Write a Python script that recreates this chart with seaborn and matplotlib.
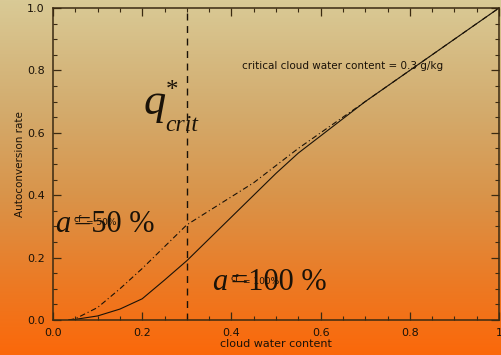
import numpy as np
import pandas as pd
import matplotlib
matplotlib.use("Agg")
import matplotlib.pyplot as plt
from matplotlib.colors import LinearSegmentedColormap
import seaborn as sns

# cloud water content (g/kg) and autoconversion rate for two cloud fractions
cwc = [0.035, 0.05, 0.1, 0.15, 0.2, 0.25, 0.3, 0.35, 0.4, 0.45, 0.5,
       0.55, 0.6, 0.65, 0.7, 0.8, 0.9, 1.0]
rate_cf100 = [0.0, 0.002, 0.013, 0.035, 0.068, 0.128, 0.19, 0.26, 0.33,
              0.40, 0.47, 0.535, 0.59, 0.645, 0.70, 0.80, 0.90, 1.0]
rate_cf50 = [0.0, 0.004, 0.04, 0.10, 0.165, 0.235, 0.305, 0.35, 0.395,
             0.44, 0.495, 0.55, 0.60, 0.65, 0.70, 0.80, 0.90, 1.0]
q_crit = 0.3

x_ticks = [0.0, 0.2, 0.4, 0.6, 0.8, 1.0]
x_ticklabels = ["0.0", "0.2", "0.4", "0.6", "0.8", "1"]
y_ticks = [0.0, 0.2, 0.4, 0.6, 0.8, 1.0]
y_ticklabels = ["0.0", "0.2", "0.4", "0.6", "0.8", "1.0"]

df = pd.DataFrame({
    "cwc": cwc * 2,
    "rate": rate_cf100 + rate_cf50,
    "cf": ["100"] * len(cwc) + ["50"] * len(cwc),
})

sns.set_style("ticks")
plt.rcParams["font.family"] = ["DejaVu Sans"]

W, H = 501, 355
fig = plt.figure(figsize=(W / 100, H / 100), dpi=100)

# tan-to-orange vertical gradient behind everything
bg = fig.add_axes([0, 0, 1, 1], zorder=-10)
grad = LinearSegmentedColormap.from_list(
    "bg", [(0.0, "#d9ca96"), (0.3, "#d3ac6e"), (0.55, "#d9944a"),
           (0.8, "#ec7a24"), (1.0, "#fb680a")])
bg.imshow(np.linspace(0, 1, 256)[:, None], aspect="auto", cmap=grad,
          extent=[0, 1, 0, 1], origin="upper")
bg.set_axis_off()

ax = fig.add_axes([53 / W, 1 - 320 / H, (499 - 53) / W, (320 - 8) / H])
ax.set_facecolor("none")

ink = "#1a1208"
sns.lineplot(data=df, x="cwc", y="rate", style="cf",
             dashes={"100": "", "50": (5, 2.5, 1, 2.5)},
             color=ink, linewidth=0.8, legend=False, ax=ax)
ax.plot([q_crit, q_crit], [0, 1], color=ink, linewidth=1.0,
        dashes=(5, 4))

ax.set_xlim(0, 1)
ax.set_ylim(0, 1)
ax.set_xticks(x_ticks)
ax.set_xticklabels(x_ticklabels)
ax.set_yticks(y_ticks)
ax.set_yticklabels(y_ticklabels)
ax.set_xticks(np.arange(0, 1.001, 0.05), minor=True)
ax.set_yticks(np.arange(0, 1.001, 0.05), minor=True)
ax.tick_params(which="both", direction="in", top=True, right=True,
               colors="#3a2a12", labelcolor=ink, labelsize=8)
ax.tick_params(which="major", length=6, width=0.9, pad=6)
ax.tick_params(which="minor", length=3, width=0.8)
for s in ax.spines.values():
    s.set_color("#3a2a12")
    s.set_linewidth(1.1)

ax.set_xlabel("cloud water content", fontsize=8, color=ink)
ax.set_ylabel("Autoconversion rate", fontsize=7.5, color=ink)
ax.xaxis.set_label_coords(0.5, -0.062)
ax.yaxis.set_label_coords(-0.062, 0.5)

ax.text(0.649, 0.813, "critical cloud water content = 0.3 g/kg",
        fontsize=7.5, color=ink, ha="center", va="center")

serif = "Liberation Serif"
# q*_crit marker next to the threshold line
ax.text(0.203, 0.66, "q", fontsize=32, style="italic", family=serif,
        color=ink, ha="left", va="baseline")
ax.text(0.267, 0.735, "*", fontsize=18, family=serif, color=ink,
        ha="center", va="center")
ax.text(0.252, 0.606, "crit", fontsize=17, style="italic", family=serif,
        color=ink, ha="left", va="baseline")

# cloud-fraction labels, big symbols overprinted with small ones
def cf_label(x, y, value):
    ax.text(x, y, "a", fontsize=22, style="italic", family=serif,
            color=ink, ha="left", va="baseline")
    ax.text(x + 0.042, y + 0.03, "cf", fontsize=6.5, color=ink,
            ha="left", va="baseline")
    ax.text(x + 0.043, y, "=" + value + " %", fontsize=22, family=serif,
            color=ink, ha="left", va="baseline")
    ax.text(x + 0.07, y + 0.02, "= " + value + "%", fontsize=6.5,
            color=ink, ha="left", va="baseline")

cf_label(0.005, 0.283, "50")
cf_label(0.357, 0.095, "100")

fig.savefig("out.png", dpi=100)
